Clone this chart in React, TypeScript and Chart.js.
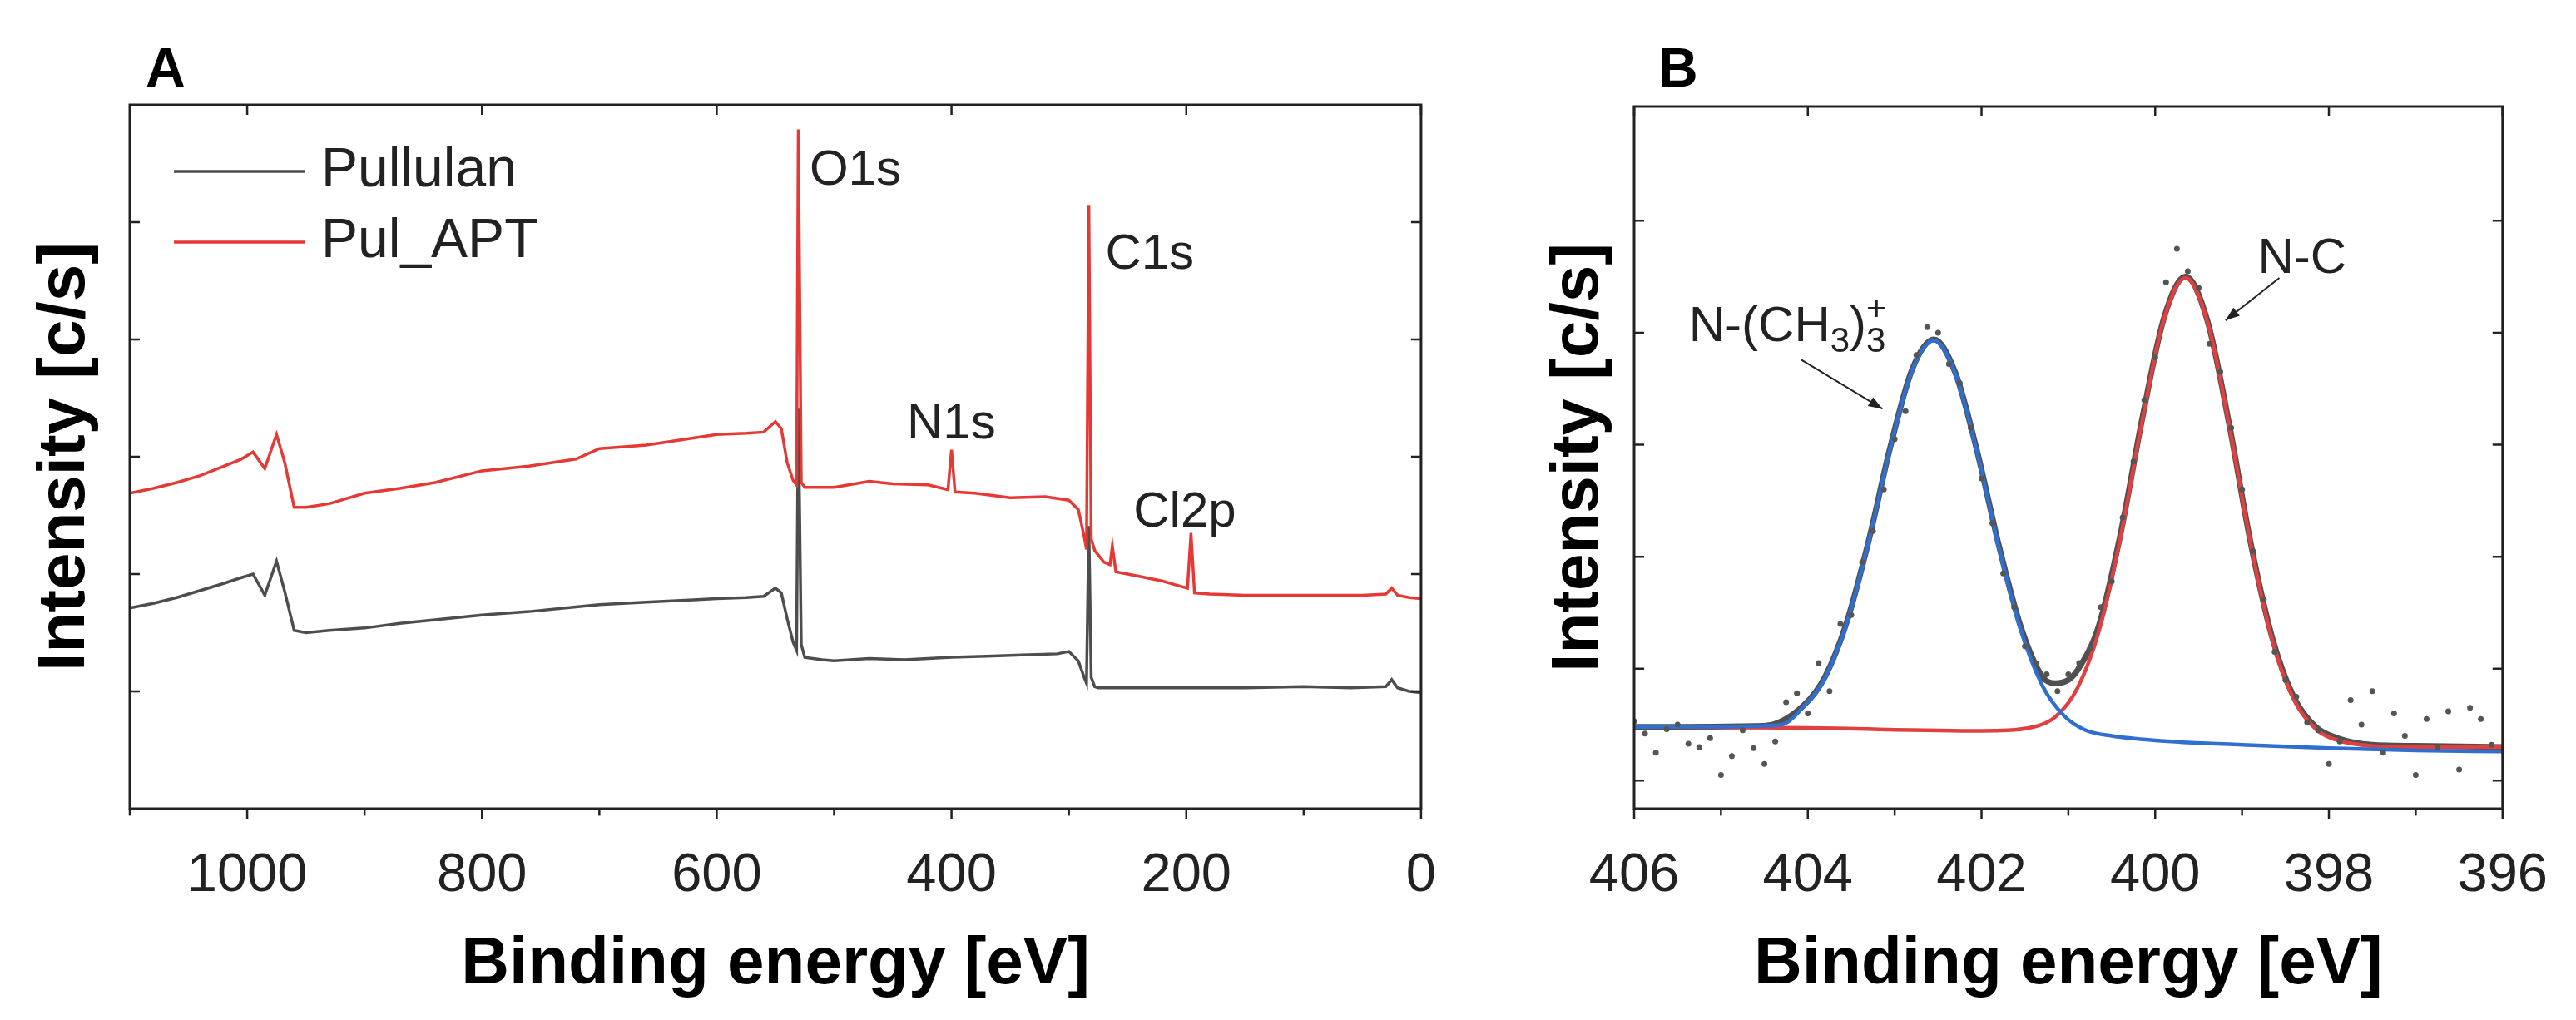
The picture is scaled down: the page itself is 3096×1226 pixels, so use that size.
import React, { useEffect, useRef } from "react";
import { Chart, registerables } from "chart.js";
Chart.register(...registerables);

// ---------- Panel A data (survey) ----------
const pullulanX = [1100, 1080, 1060, 1040, 1020, 1005, 995, 985, 975, 968, 960, 950, 930, 900, 870, 840, 800, 760, 720, 700, 660, 620, 600, 575, 560, 550, 545, 540, 535, 532, 530.5, 528, 525, 510, 500, 470, 440, 400, 370, 340, 310, 300, 292, 287, 285, 283, 281, 278, 275, 250, 200, 150, 100, 60, 30, 25, 20, 10, 0];
const pullulanY = [1.71, 1.75, 1.8, 1.86, 1.92, 1.97, 2.0, 1.82, 2.11, 1.85, 1.52, 1.5, 1.52, 1.54, 1.58, 1.61, 1.65, 1.68, 1.72, 1.74, 1.76, 1.78, 1.79, 1.8, 1.81, 1.88, 1.84, 1.62, 1.42, 1.35, 3.41, 1.4, 1.29, 1.27, 1.26, 1.28, 1.27, 1.29, 1.3, 1.31, 1.32, 1.34, 1.26, 1.12, 1.07, 2.41, 1.12, 1.04, 1.03, 1.03, 1.03, 1.03, 1.04, 1.03, 1.04, 1.1, 1.03, 1.0, 0.99];
const pulAptX = [1100, 1080, 1060, 1040, 1020, 1005, 995, 985, 975, 968, 960, 950, 930, 900, 870, 840, 800, 760, 720, 700, 660, 620, 600, 575, 560, 550, 545, 540, 535, 532, 530.5, 528, 525, 500, 470, 450, 420, 403, 400, 397, 380, 350, 320, 300, 292, 287, 285, 283, 281, 278, 270, 265, 263, 260, 240, 220, 210, 199, 196, 193, 180, 150, 100, 50, 30, 25, 20, 10, 0];
const pulAptY = [2.69, 2.73, 2.78, 2.84, 2.92, 2.98, 3.04, 2.9, 3.19, 2.95, 2.57, 2.57, 2.6, 2.69, 2.73, 2.78, 2.88, 2.92, 2.98, 3.07, 3.1, 3.16, 3.19, 3.2, 3.21, 3.3, 3.24, 2.95, 2.8, 2.76, 5.79, 2.78, 2.74, 2.74, 2.79, 2.77, 2.76, 2.72, 3.06, 2.7, 2.69, 2.65, 2.66, 2.63, 2.55, 2.32, 2.21, 5.14, 2.3, 2.2, 2.1, 2.08, 2.24, 2.02, 1.98, 1.94, 1.91, 1.88, 2.35, 1.84, 1.83, 1.82, 1.82, 1.82, 1.83, 1.88, 1.82, 1.8, 1.79];

// ---------- Panel B data (N1s high resolution) ----------
const blueX = [406, 405, 404.5, 404.3, 404.05, 403.8, 403.55, 403.3, 403.05, 402.8, 402.55, 402.3, 402.05, 401.8, 401.55, 401.3, 401.05, 400.8, 400.5, 400, 399, 398, 397, 396];
const blueY = [0.48, 0.48, 0.49, 0.5, 0.66, 0.92, 1.41, 2.13, 2.97, 3.66, 3.93, 3.63, 2.93, 2.08, 1.35, 0.85, 0.58, 0.45, 0.4, 0.36, 0.32, 0.29, 0.27, 0.26];
const redX = [406, 404, 402, 401.4, 401.15, 400.9, 400.65, 400.4, 400.15, 399.9, 399.65, 399.4, 399.15, 398.9, 398.65, 398.4, 398.15, 397.9, 397.5, 397, 396];
const redY = [0.48, 0.47, 0.445, 0.48, 0.57, 0.82, 1.33, 2.17, 3.21, 4.12, 4.49, 4.1, 3.18, 2.11, 1.25, 0.72, 0.46, 0.36, 0.31, 0.3, 0.3];
const envX = [406, 404.5, 404.05, 403.8, 403.55, 403.3, 403.05, 402.8, 402.55, 402.3, 402.05, 401.8, 401.55, 401.3, 401.15, 401.0, 400.9, 400.65, 400.4, 400.15, 399.9, 399.65, 399.4, 399.15, 398.9, 398.65, 398.4, 398.15, 397.9, 397.5, 397, 396];
const envY = [0.48, 0.49, 0.67, 0.93, 1.42, 2.14, 2.98, 3.67, 3.94, 3.64, 2.94, 2.1, 1.38, 0.93, 0.87, 0.9, 0.98, 1.38, 2.2, 3.23, 4.13, 4.5, 4.11, 3.19, 2.12, 1.27, 0.74, 0.48, 0.38, 0.32, 0.31, 0.3];
const rawX = [406.0, 405.875, 405.75, 405.625, 405.5, 405.375, 405.25, 405.125, 405.0, 404.875, 404.75, 404.625, 404.5, 404.375, 404.25, 404.125, 404.0, 403.875, 403.75, 403.625, 403.5, 403.375, 403.25, 403.125, 403.0, 402.875, 402.75, 402.625, 402.5, 402.375, 402.25, 402.125, 402.0, 401.875, 401.75, 401.625, 401.5, 401.375, 401.25, 401.125, 401.0, 400.875, 400.75, 400.625, 400.5, 400.375, 400.25, 400.125, 400.0, 399.875, 399.75, 399.625, 399.5, 399.375, 399.25, 399.125, 399.0, 398.875, 398.75, 398.625, 398.5, 398.375, 398.25, 398.125, 398.0, 397.875, 397.75, 397.625, 397.5, 397.375, 397.25, 397.125, 397.0, 396.875, 396.75, 396.625, 396.5, 396.375, 396.25, 396.125];
const rawY = [0.53, 0.42, 0.25, 0.46, 0.5, 0.33, 0.3, 0.38, 0.05, 0.22, 0.45, 0.29, 0.15, 0.35, 0.7, 0.78, 0.6, 1.05, 0.8, 1.4, 1.48, 1.95, 2.23, 2.6, 3.05, 3.3, 3.8, 4.05, 4.0, 3.72, 3.55, 3.15, 2.7, 2.3, 1.85, 1.55, 1.2, 1.05, 0.95, 0.8, 0.95, 1.05, 1.18, 1.55, 1.78, 2.35, 2.85, 3.4, 3.78, 4.45, 4.75, 4.55, 4.4, 3.9, 3.65, 3.15, 2.6, 2.05, 1.62, 1.15, 0.9, 0.75, 0.52, 0.45, 0.15, 0.35, 0.72, 0.5, 0.8, 0.25, 0.6, 0.4, 0.05, 0.55, 0.3, 0.62, 0.1, 0.65, 0.55, 0.32];

const FONT = "'Liberation Sans', Arial, sans-serif";
const zip = (xs: number[], ys: number[]) => xs.map((x, i) => ({ x, y: ys[i] }));

function framePlugin(opts: any) {
  return {
    id: "frame",
    afterDraw(chart: any) {
      const { ctx, chartArea: a, scales } = chart;
      const xs = scales.x, ys = scales.y;
      ctx.save();
      ctx.strokeStyle = "#222";
      ctx.lineWidth = 3;
      ctx.strokeRect(a.left, a.top, a.right - a.left, a.bottom - a.top);
      ctx.lineWidth = 2.5;
      const L = 12;
      const step = opts.xStep;
      for (let v = xs.min; v <= xs.max + 1e-9; v += step / 2) {
        const px = xs.getPixelForValue(v);
        const major = Math.abs(Math.round(v / step) * step - v) < 1e-6;
        const len = major ? L : L * 0.7;
        ctx.beginPath();
        ctx.moveTo(px, a.bottom); ctx.lineTo(px, a.bottom + len);
        if (major) { ctx.moveTo(px, a.top); ctx.lineTo(px, a.top + L); }
        ctx.stroke();
      }
      for (const v of opts.yTicks) {
        const py = ys.getPixelForValue(v);
        ctx.beginPath();
        ctx.moveTo(a.left, py); ctx.lineTo(a.left + L, py);
        ctx.moveTo(a.right, py); ctx.lineTo(a.right - L, py);
        ctx.stroke();
      }
      ctx.fillStyle = "#000";
      ctx.font = `bold 80px ${FONT}`;
      ctx.textAlign = "center"; ctx.textBaseline = "middle";
      ctx.fillText("Binding energy [eV]", (a.left + a.right) / 2, 1160);
      ctx.save();
      ctx.translate(opts.yTitleX, (a.top + a.bottom) / 2);
      ctx.rotate(-Math.PI / 2);
      ctx.fillText("Intensity [c/s]", 0, 0);
      ctx.restore();
      ctx.font = `bold 66px ${FONT}`;
      ctx.textAlign = "left";
      ctx.fillText(opts.letter, opts.letterX, 86);
      ctx.font = `60px ${FONT}`;
      ctx.fillStyle = "#222";
      for (const t of opts.labels) {
        const px = xs.getPixelForValue(t.x), py = ys.getPixelForValue(t.y);
        ctx.textAlign = "left"; ctx.textBaseline = "middle";
        ctx.fillText(t.text, px, py);
        if (t.sub) {
          const w = ctx.measureText(t.text).width;
          ctx.font = `42px ${FONT}`;
          ctx.fillText(t.sub, px + w, py + 18);
          const w2 = ctx.measureText(t.sub).width;
          ctx.font = `60px ${FONT}`;
          ctx.fillText(")", px + w + w2, py);
          const w3 = ctx.measureText(")").width;
          ctx.font = `42px ${FONT}`;
          ctx.fillText("3", px + w + w2 + w3, py + 18);
          ctx.fillText("+", px + w + w2 + w3, py - 20);
          ctx.font = `60px ${FONT}`;
        }
      }
      for (const ar of opts.arrows || []) {
        const x1 = xs.getPixelForValue(ar[0]), y1 = ys.getPixelForValue(ar[1]);
        const x2 = xs.getPixelForValue(ar[2]), y2 = ys.getPixelForValue(ar[3]);
        ctx.lineWidth = 2; ctx.strokeStyle = "#222";
        ctx.beginPath(); ctx.moveTo(x1, y1); ctx.lineTo(x2, y2); ctx.stroke();
        const ang = Math.atan2(y2 - y1, x2 - x1);
        ctx.beginPath();
        ctx.moveTo(x2, y2);
        ctx.lineTo(x2 - 18 * Math.cos(ang - 0.35), y2 - 18 * Math.sin(ang - 0.35));
        ctx.lineTo(x2 - 18 * Math.cos(ang + 0.35), y2 - 18 * Math.sin(ang + 0.35));
        ctx.closePath(); ctx.fill();
      }
      if (opts.legend) {
        ctx.font = `66px ${FONT}`;
        ctx.textBaseline = "middle"; ctx.textAlign = "left";
        opts.legend.forEach((l: any, i: number) => {
          const y = 206 + i * 85;
          ctx.strokeStyle = l.color; ctx.lineWidth = 3.5;
          ctx.beginPath(); ctx.moveTo(209, y); ctx.lineTo(367, y); ctx.stroke();
          ctx.fillStyle = "#222";
          ctx.fillText(l.text, 386, y);
        });
      }
      ctx.restore();
    },
  };
}

function makeChart(canvas: HTMLCanvasElement, cfg: any) {
  const { datasets, xMin, xMax, xStep, yMin, yMax, yAxisW, padTop, padRight, plug } = cfg;
  return new Chart(canvas, {
    type: "line",
    data: { datasets },
    options: {
      animation: false,
      responsive: false,
      devicePixelRatio: 1,
      layout: { padding: { top: padTop, right: padRight, left: 0, bottom: 0 } },
      plugins: { legend: { display: false }, tooltip: { enabled: false } },
      scales: {
        x: {
          type: "linear", reverse: true, min: xMin, max: xMax,
          grid: { display: false }, border: { display: false },
          ticks: { stepSize: xStep, includeBounds: false, color: "#222", font: { size: 65, family: FONT }, padding: 34, maxRotation: 0, callback: (v: any) => String(v) },
          afterFit: (s: any) => { s.height = 254; },
        },
        y: {
          min: yMin, max: yMax,
          grid: { display: false }, border: { display: false },
          ticks: { display: false },
          afterFit: (s: any) => { s.width = yAxisW; },
        },
      },
    } as any,
    plugins: [framePlugin(plug)],
  });
}

export default function App() {
  const refA = useRef<HTMLCanvasElement>(null);
  const refB = useRef<HTMLCanvasElement>(null);
  useEffect(() => {
    const line = (data: any, color: string, w = 3, order = 0, tension = 0) => ({ data, borderColor: color, borderWidth: w, pointRadius: 0, tension, fill: false, order, cubicInterpolationMode: "monotone" });
    const a = makeChart(refA.current!, {
      datasets: [line(zip(pullulanX, pullulanY), "#4d4d4d", 3.5, 1), line(zip(pulAptX, pulAptY), "#e53935", 3.5, 0)],
      xMin: 0, xMax: 1100, xStep: 200, yMin: 0, yMax: 6, yAxisW: 156, padTop: 126, padRight: 35,
      plug: {
        xStep: 200, yTicks: [1, 2, 3, 4, 5], yTitleX: 79, letter: "A", letterX: 175,
        labels: [
          { text: "O1s", x: 521, y: 5.44 }, { text: "C1s", x: 269, y: 4.72 },
          { text: "N1s", x: 438, y: 3.27 }, { text: "Cl2p", x: 245, y: 2.52 },
        ],
        legend: [{ text: "Pullulan", color: "#4d4d4d" }, { text: "Pul_APT", color: "#e53935" }],
      },
    });
    (a.data.datasets as any[]).forEach((d) => { d.cubicInterpolationMode = "default"; d.tension = 0; });
    a.update();
    const b = makeChart(refB.current!, {
      datasets: [
        line(zip(envX, envY), "#505050", 7, 3, 0.4),
        line(zip(redX, redY), "#e0403f", 4.5, 2, 0.4),
        line(zip(blueX, blueY), "#2f6fd0", 4.5, 1, 0.4),
        { data: zip(rawX, rawY), showLine: false, pointRadius: 3.5, pointBackgroundColor: "#555", pointBorderWidth: 0, order: 0 },
      ],
      xMin: 396, xMax: 406, xStep: 2, yMin: -0.25, yMax: 6.02, yAxisW: 204, padTop: 128, padRight: 76,
      plug: {
        xStep: 2, yTicks: [0, 1, 2, 3, 4, 5], yTitleX: 138, letter: "B", letterX: 233,
        labels: [
          { text: "N-(CH", sub: "3", x: 405.37, y: 4.05 },
          { text: "N-C", x: 398.82, y: 4.66 },
        ],
        arrows: [[404.08, 3.76, 403.14, 3.32], [398.57, 4.49, 399.19, 4.11]],
      },
    });
    return () => { a.destroy(); b.destroy(); };
  }, []);
  return (
    <div style={{ position: "absolute", left: 0, top: 0, width: 3096, height: 1226, background: "#fff" }}>
      <canvas ref={refA} width={1760} height={1226} style={{ position: "absolute", left: 0, top: 0 }} />
      <canvas ref={refB} width={1336} height={1226} style={{ position: "absolute", left: 1760, top: 0 }} />
    </div>
  );
}
